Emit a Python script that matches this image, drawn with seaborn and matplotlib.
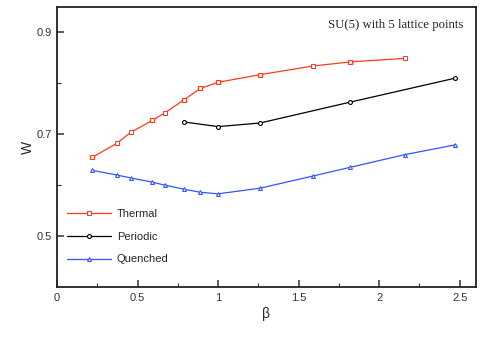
import numpy as np
import pandas as pd
import matplotlib
matplotlib.use('Agg')
import matplotlib.pyplot as plt
import seaborn as sns

# values
beta_thermal = [0.22, 0.37, 0.46, 0.59, 0.67, 0.79, 0.89, 1.0, 1.26, 1.59, 1.82, 2.16]
w_thermal = [0.655, 0.682, 0.704, 0.727, 0.742, 0.768, 0.790, 0.802, 0.817, 0.834, 0.842, 0.849]

beta_periodic = [0.79, 1.0, 1.26, 1.82, 2.47]
w_periodic = [0.724, 0.715, 0.722, 0.763, 0.810]

beta_quenched = [0.22, 0.37, 0.46, 0.59, 0.67, 0.79, 0.89, 1.0, 1.26, 1.59, 1.82, 2.16, 2.47]
w_quenched = [0.629, 0.620, 0.614, 0.606, 0.600, 0.592, 0.586, 0.583, 0.594, 0.618, 0.635, 0.660, 0.679]

sns.set_style('ticks')
plt.rcParams['font.family'] = ['Liberation Sans', 'DejaVu Sans']

fig = plt.figure(figsize=(4.85, 3.46), dpi=100)
ax = fig.add_axes([0.1175, 0.1705, 0.8635, 0.8095])

series = [
    ('Thermal', beta_thermal, w_thermal, '#ff3b1f', 's'),
    ('Periodic', beta_periodic, w_periodic, '#000000', 'o'),
    ('Quenched', beta_quenched, w_quenched, '#3355ff', '^'),
]
for name, b, w, col, mk in series:
    df = pd.DataFrame({'beta': b, 'W': w})
    sns.lineplot(data=df, x='beta', y='W', ax=ax, sort=False, color=col,
                 linewidth=0.9, marker=mk, markersize=2.8,
                 markerfacecolor='white', markeredgecolor=col,
                 markeredgewidth=0.8, label=name)

ax.set_xlim(0, 2.6)
ax.set_ylim(0.4, 0.95)
ax.set_xticks([0, 0.5, 1, 1.5, 2, 2.5])
ax.set_xticklabels(['0', '0.5', '1', '1.5', '2', '2.5'])
ax.set_xticks(np.arange(0.25, 2.6, 0.5), minor=True)
ax.set_yticks([0.5, 0.7, 0.9])
ax.set_yticks([0.6, 0.8], minor=True)
ax.tick_params(which='major', direction='in', length=5, width=1.1, labelsize=8,
               colors='#333333', labelcolor='#333333', pad=4)
ax.tick_params(which='minor', direction='in', length=3, width=0.8, colors='#333333')
for s in ax.spines.values():
    s.set_linewidth(1.3)
    s.set_color('#222222')

ax.set_xlabel('β', fontsize=10, labelpad=3)
ax.set_ylabel('W', fontsize=10, labelpad=1)

ax.text(0.97, 0.935, 'SU(5) with 5 lattice points', transform=ax.transAxes,
        ha='right', va='center', fontsize=9.2, family='Liberation Serif')

ax.legend(loc='lower left', bbox_to_anchor=(0.0, 0.045), frameon=False,
          fontsize=8, handlelength=4.0, handletextpad=0.5, labelspacing=1.15,
          borderaxespad=0.5)

fig.savefig('out.png', dpi=100)
